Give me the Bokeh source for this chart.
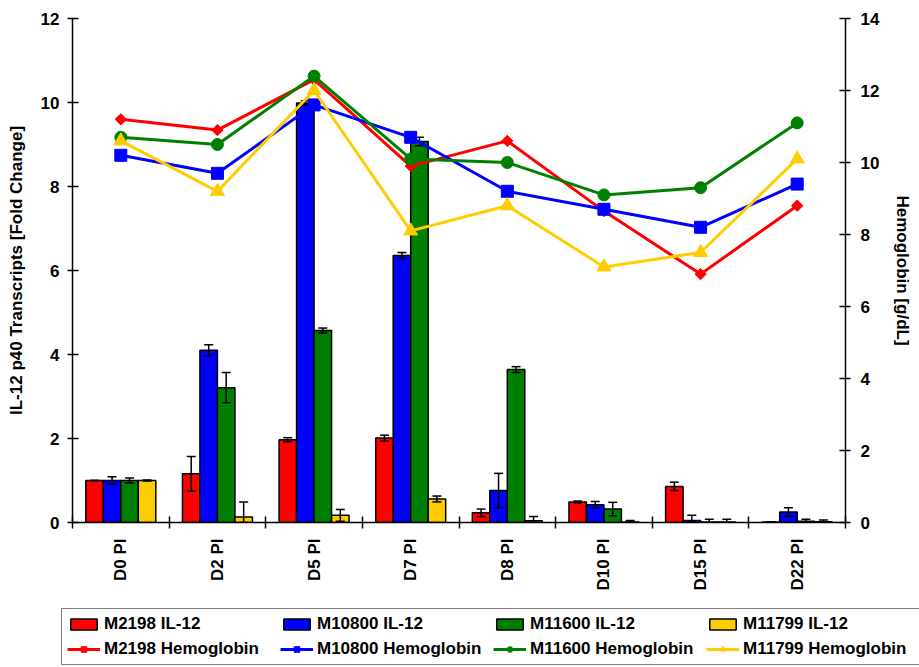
import numpy as np
from bokeh.plotting import figure
from bokeh.models import Range1d, LinearAxis, FixedTicker, Legend, LegendItem
from bokeh.embed import file_html
from bokeh.resources import INLINE

# ---------------- data ----------------
days = ["D0 PI", "D2 PI", "D5 PI", "D7 PI", "D8 PI", "D10 PI", "D15 PI", "D22 PI"]

il12_m2198 = [1.00, 1.16, 1.97, 2.01, 0.23, 0.49, 0.86, 0.01]
il12_m2198_err = [0.00, 0.41, 0.05, 0.07, 0.09, 0.02, 0.10, 0.00]
il12_m10800 = [1.00, 4.10, 9.99, 6.36, 0.76, 0.42, 0.05, 0.25]
il12_m10800_err = [0.09, 0.13, 0.05, 0.07, 0.41, 0.08, 0.12, 0.10]
il12_m11600 = [1.00, 3.21, 4.57, 9.07, 3.64, 0.32, 0.01, 0.03]
il12_m11600_err = [0.06, 0.36, 0.06, 0.10, 0.07, 0.16, 0.07, 0.05]
il12_m11799 = [1.00, 0.13, 0.17, 0.56, 0.04, 0.01, 0.01, 0.02]
il12_m11799_err = [0.01, 0.36, 0.14, 0.07, 0.10, 0.04, 0.07, 0.04]

hb_m2198 = [11.2, 10.9, 12.3, 9.9, 10.6, 8.65, 6.9, 8.8]
hb_m10800 = [10.2, 9.7, 11.6, 10.7, 9.2, 8.7, 8.2, 9.4]
hb_m11600 = [10.7, 10.5, 12.4, 10.1, 10.0, 9.1, 9.3, 11.1]
hb_m11799 = [10.6, 9.2, 12.0, 8.1, 8.8, 7.1, 7.5, 10.1]

monkeys = ["M2198", "M10800", "M11600", "M11799"]
colors = ["#FF0000", "#0000FF", "#008000", "#FFCC00"]
bar_series = [il12_m2198, il12_m10800, il12_m11600, il12_m11799]
err_series = [il12_m2198_err, il12_m10800_err, il12_m11600_err, il12_m11799_err]
hb_series = [hb_m2198, hb_m10800, hb_m11600, hb_m11799]
markers = [("square", 8, np.pi / 4), ("square", 12, 0), ("circle", 12, 0), ("triangle", 14, 0)]

FONT = "Liberation Sans"
FS = "17px"

centers = np.arange(len(days)) + 0.5
bar_w = 0.181

p = figure(width=919, height=600, x_range=Range1d(0, len(days)), y_range=Range1d(0, 12),
           output_backend="svg", toolbar_location=None,
           min_border_left=72, min_border_right=74, min_border_top=18, min_border_bottom=78)
p.extra_y_ranges = {"hb": Range1d(0, 14)}
p.outline_line_color = None
p.xgrid.visible = False
p.ygrid.visible = False

# bars
for k, (vals, col) in enumerate(zip(bar_series, colors)):
    xs = centers + (k - 1.5) * bar_w
    p.vbar(x=xs, top=vals, width=bar_w, bottom=0, fill_color=col,
           line_color="black", line_width=1.5)

# error bars
for k, (vals, errs) in enumerate(zip(bar_series, err_series)):
    xs = centers + (k - 1.5) * bar_w
    v = np.array(vals)
    e = np.array(errs)
    hi = v + e
    lo = np.clip(v - e, 0, None)
    p.segment(x0=xs, y0=lo, x1=xs, y1=hi, line_color="black", line_width=1.5)
    p.scatter(x=xs, y=hi, marker="dash", size=9, line_color="black", line_width=1.5)
    p.scatter(x=xs, y=lo, marker="dash", size=9, line_color="black", line_width=1.5)

# hemoglobin lines
for vals, col, (mk, sz, ang) in zip(hb_series, colors, markers):
    p.line(x=centers, y=vals, line_color=col, line_width=3, y_range_name="hb")
    p.scatter(x=centers, y=vals, marker=mk, size=sz, angle=ang, fill_color=col,
              line_color=col, y_range_name="hb")

# axes
yl = p.yaxis[0]
yl.ticker = FixedTicker(ticks=list(range(0, 13, 2)))
yl.axis_label = "IL-12 p40 Transcripts [Fold Change]"

yr = LinearAxis(y_range_name="hb", ticker=FixedTicker(ticks=list(range(0, 15, 2))),
                axis_label="Hemoglobin [g/dL]")
p.add_layout(yr, "right")

for ax in (yl, yr):
    ax.major_tick_in = 6
    ax.major_tick_out = 5
    ax.minor_tick_line_color = None
    ax.major_label_standoff = 8 if ax is yl else 10
    ax.axis_label_standoff = 12 if ax is yl else 11

xa = p.xaxis[0]
xa.ticker = FixedTicker(ticks=list(centers), minor_ticks=list(range(len(days) + 1)))
xa.major_label_overrides = {float(c): d for c, d in zip(centers, days)}
xa.major_tick_line_color = None
xa.major_tick_in = 0
xa.major_tick_out = 6
xa.minor_tick_in = 6
xa.minor_tick_out = 6
xa.minor_tick_line_color = "black"
xa.minor_tick_line_width = 1.5
xa.major_label_orientation = np.pi / 2
xa.major_label_standoff = 10

for ax in (yl, yr, xa):
    ax.axis_line_color = "black"
    ax.axis_line_width = 1.5
    ax.major_tick_line_width = 1.5
    ax.major_label_text_font = FONT
    ax.major_label_text_font_style = "bold"
    ax.major_label_text_font_size = FS
    ax.major_label_text_color = "black"
    ax.axis_label_text_font = FONT
    ax.axis_label_text_font_style = "bold"
    ax.axis_label_text_font_size = FS
    ax.axis_label_text_color = "black"

# ---------------- legend panel: a second root placed under the chart ----------------
lg = figure(width=919, height=67, x_range=Range1d(0, 1), y_range=Range1d(0, 1),
            output_backend="svg", toolbar_location=None,
            min_border_left=0, min_border_right=0, min_border_top=0, min_border_bottom=0,
            x_axis_type=None, y_axis_type=None)
lg.outline_line_color = None
lg.xgrid.visible = False
lg.ygrid.visible = False

nodata = [np.nan]  # legend-key renderers carry no data points, only their style
items = []
for m, col in zip(monkeys, colors):
    r = lg.vbar(x=nodata, top=nodata, width=0.1, fill_color=col, line_color="black",
                line_width=1.5)
    items.append(LegendItem(label=f"{m} IL-12", renderers=[r]))
for m, col, (mk, sz, ang) in zip(monkeys, colors, markers):
    ln = lg.line(x=nodata, y=nodata, line_color=col, line_width=3)
    sc = lg.scatter(x=nodata, y=nodata, marker=mk, size=sz, angle=ang, fill_color=col,
                    line_color=col)
    items.append(LegendItem(label=f"{m} Hemoglobin", renderers=[ln, sc]))

legend = Legend(items=items, orientation="horizontal", ncols=4,
                location=(61, 2),
                glyph_width=33, glyph_height=14, label_width=171, label_height=20,
                label_standoff=4, spacing=5, padding=5, margin=0,
                label_text_font=FONT, label_text_font_style="bold", label_text_font_size=FS,
                label_text_color="black",
                border_line_color="black", border_line_width=1.5,
                background_fill_color="white", background_fill_alpha=1.0)
lg.add_layout(legend, "center")

open("out.html", "w").write(file_html((p, lg), INLINE))
